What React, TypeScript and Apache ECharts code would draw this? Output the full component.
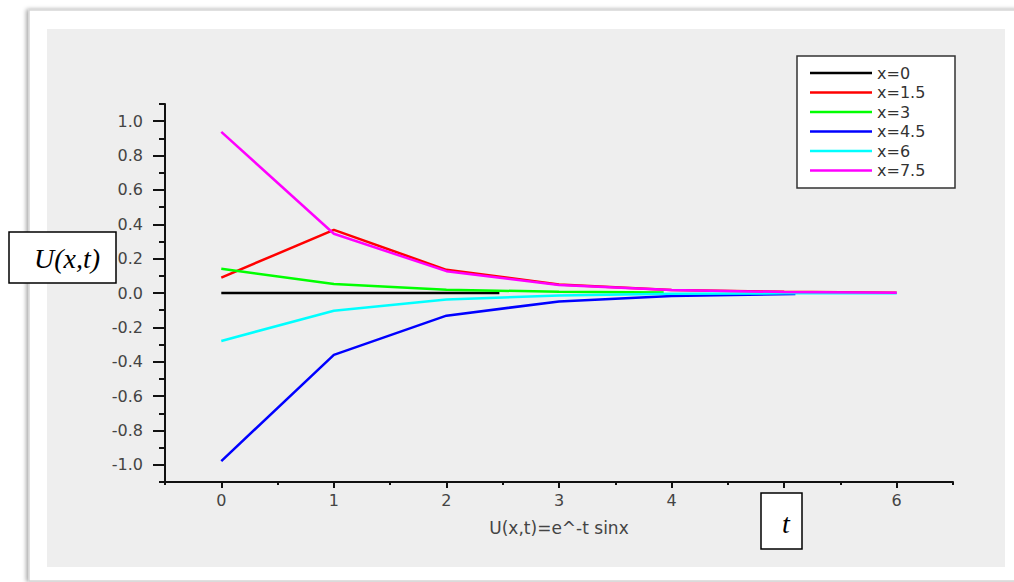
import React, { useEffect, useRef } from "react";
import * as echarts from "echarts";

// ---- data ----
const seriesNames = ["x=0", "x=1.5", "x=3", "x=4.5", "x=6", "x=7.5"];
const seriesColors = ["#000000", "#ff0000", "#00ff00", "#0000ff", "#00ffff", "#ff00ff"];

const tX0 = [0, 1, 2, 2.47];
const uX0 = [0, 0, 0, 0];
const tX15 = [0, 1, 2, 3, 4, 5, 6];
const uX15 = [0.09, 0.367, 0.135, 0.05, 0.018, 0.007, 0.002];
const tX3 = [0, 1, 2, 3, 3.93];
const uX3 = [0.141, 0.052, 0.019, 0.007, 0.003];
const tX45 = [0, 1, 2, 3, 4, 5.1];
const uX45 = [-0.978, -0.36, -0.132, -0.049, -0.018, -0.006];
const tX6 = [0, 1, 2, 3, 4, 5, 6];
const uX6 = [-0.279, -0.103, -0.038, -0.014, -0.005, -0.002, -0.001];
const tX75 = [0, 1, 2, 3, 4, 5, 6];
const uX75 = [0.938, 0.345, 0.127, 0.047, 0.017, 0.006, 0.002];

const xTickLabels = [0, 1, 2, 3, 4, 5, 6];
const yTickLabels = [-1.0, -0.8, -0.6, -0.4, -0.2, 0.0, 0.2, 0.4, 0.6, 0.8, 1.0];

const xAxisTitle = "U(x,t)=e^-t sinx";
const yBoxText = "U(x,t)";
const tBoxText = "t";

const allT = [tX0, tX15, tX3, tX45, tX6, tX75];
const allU = [uX0, uX15, uX3, uX45, uX6, uX75];

export default function App() {
  const ref = useRef<HTMLDivElement>(null);
  useEffect(() => {
    if (!ref.current) return;
    const chart = echarts.init(ref.current, null, { renderer: "svg" });
    const axisColor = "#111111";
    const labelFont = "DejaVu Sans";
    const series = seriesNames.map((name, i) => ({
      name,
      type: "line",
      xAxisIndex: 0,
      yAxisIndex: 0,
      symbol: "none",
      color: seriesColors[i],
      lineStyle: { color: seriesColors[i], width: 2.5 },
      data: allT[i].map((t, k) => [t, allU[i][k]]),
    }));
    chart.setOption({
      animation: false,
      grid: { left: 165, right: 61, top: 104, bottom: 100 },
      graphic: [
        {
          type: "rect",
          z: -20,
          shape: { x: 29, y: 10, width: 990, height: 571 },
          style: { fill: "#ffffff", stroke: "#d6d6d6", lineWidth: 1.5, shadowBlur: 4, shadowOffsetX: -2, shadowColor: "rgba(0,0,0,0.35)" },
        },
        {
          type: "rect",
          z: -10,
          shape: { x: 47, y: 29, width: 958, height: 538 },
          style: { fill: "#eeeeee" },
        },
        {
          type: "rect",
          z: 3,
          shape: { x: 797, y: 56, width: 158, height: 132 },
          style: { fill: "#ffffff", stroke: "#333333", lineWidth: 1.5 },
        },
        {
          type: "rect",
          z: 10,
          shape: { x: 9, y: 232, width: 107, height: 51 },
          style: { fill: "#ffffff", stroke: "#000000", lineWidth: 1.5 },
        },
        {
          type: "text",
          z: 11,
          style: {
            text: yBoxText,
            x: 67,
            y: 258,
            font: "italic 28px 'Liberation Serif'",
            fill: "#000000",
            textAlign: "center",
            textVerticalAlign: "middle",
          },
        },
        {
          type: "rect",
          z: 10,
          shape: { x: 761, y: 493, width: 41, height: 56 },
          style: { fill: "#ffffff", stroke: "#000000", lineWidth: 1.5 },
        },
        {
          type: "text",
          z: 11,
          style: {
            text: tBoxText,
            x: 786,
            y: 523,
            font: "italic 28px 'Liberation Serif'",
            fill: "#000000",
            textAlign: "center",
            textVerticalAlign: "middle",
          },
        },
      ],
      legend: {
        data: seriesNames,
        orient: "vertical",
        left: 810,
        top: 65,
        padding: 0,
        icon: "rect",
        itemWidth: 62,
        itemHeight: 2.5,
        itemGap: 3.5,
        textStyle: { fontSize: 16, fontFamily: labelFont, color: "#333333" },
      },
      xAxis: [
        {
          type: "value",
          min: -0.5,
          max: 6.5,
          position: "bottom",
          axisLine: { show: true, onZero: false, lineStyle: { color: axisColor, width: 2 } },
          axisTick: { show: true, customValues: xTickLabels, length: 6, lineStyle: { color: axisColor, width: 2 } },
          axisLabel: { customValues: xTickLabels, margin: 10, color: "#444444", fontSize: 16, fontFamily: labelFont },
          splitLine: { show: false },
          name: xAxisTitle,
          nameLocation: "middle",
          nameGap: 37,
          nameTextStyle: { color: "#444444", fontSize: 17, fontFamily: labelFont },
        },
        {
          type: "value",
          min: -0.5,
          max: 6.5,
          interval: 0.5,
          position: "bottom",
          axisLine: { show: false, onZero: false },
          axisTick: { show: true, length: 3, lineStyle: { color: axisColor, width: 2 } },
          axisLabel: { show: false },
          splitLine: { show: false },
        },
      ],
      yAxis: [
        {
          type: "value",
          min: -1.1,
          max: 1.1,
          position: "left",
          axisLine: { show: true, onZero: false, lineStyle: { color: axisColor, width: 2 } },
          axisTick: { show: true, customValues: yTickLabels, length: 12, lineStyle: { color: axisColor, width: 2 } },
          axisLabel: {
            customValues: yTickLabels,
            formatter: (v: number) => v.toFixed(1),
            margin: 22,
            color: "#444444",
            fontSize: 16,
            fontFamily: labelFont,
          },
          splitLine: { show: false },
        },
        {
          type: "value",
          min: -1.1,
          max: 1.1,
          interval: 0.1,
          position: "left",
          axisLine: { show: false, onZero: false },
          axisTick: { show: true, length: 6, lineStyle: { color: axisColor, width: 2 } },
          axisLabel: { show: false },
          splitLine: { show: false },
        },
      ],
      series,
    });
    return () => chart.dispose();
  }, []);
  return (
    <div
      ref={ref}
      style={{ position: "absolute", left: 0, top: 0, width: 1014, height: 582, background: "#ffffff" }}
    />
  );
}
